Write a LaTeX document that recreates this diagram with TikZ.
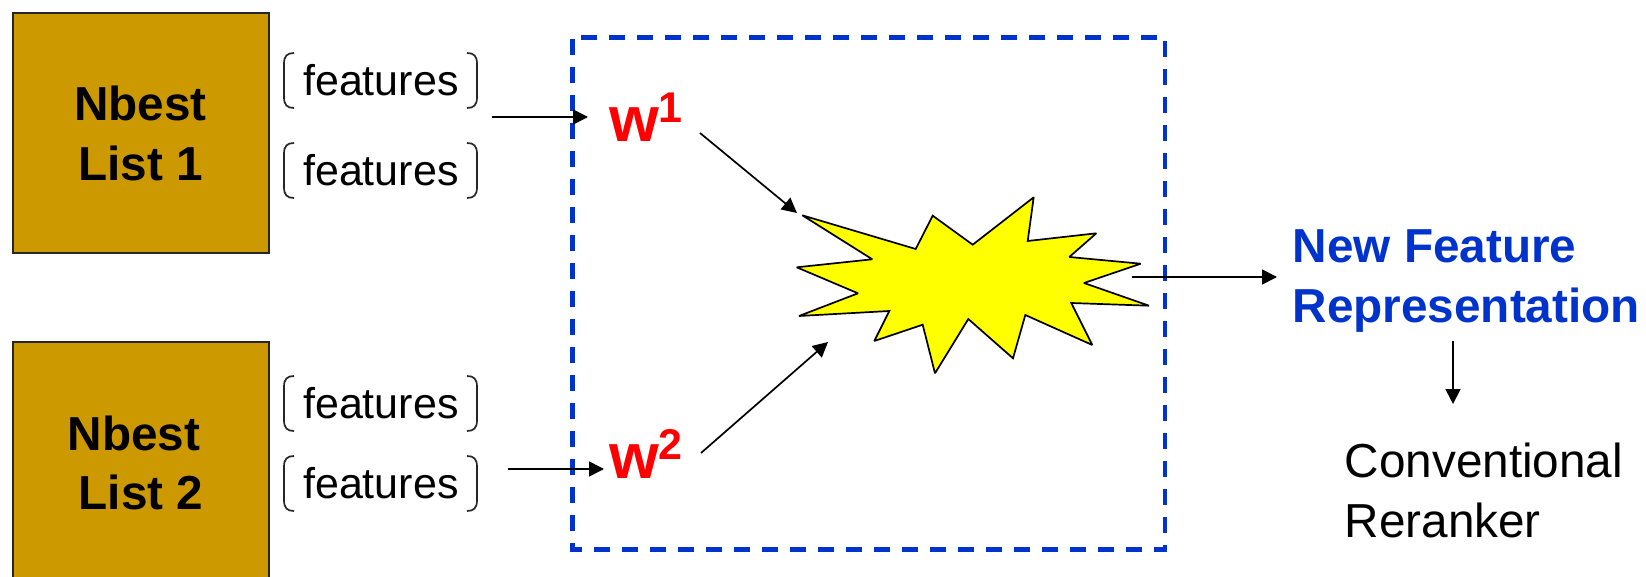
\documentclass[tikz,border=0pt]{standalone}
\usepackage{fontspec}
\setmainfont{Liberation Sans}
\usetikzlibrary{arrows.meta}
\definecolor{nbrown}{HTML}{CC9900}
\definecolor{nblue}{HTML}{0033CC}
\definecolor{byellow}{RGB}{255,255,0}
\definecolor{bred}{RGB}{255,0,0}
\tikzset{
  nbox/.style={draw=black!85,fill=nbrown,line width=1.7pt},
  label47/.style={anchor=base west,inner sep=0pt,align=left,font=\fontsize{47.7}{59.5}\selectfont},
  boldlabel/.style={label47,font=\bfseries\fontsize{47.7}{59.5}\selectfont},
  bluelabel/.style={boldlabel,text=nblue},
  feat/.style={anchor=base west,inner sep=0pt,font=\fontsize{43}{50}\selectfont},
  wlabel/.style={anchor=base west,inner sep=0pt,text=bred,font=\bfseries\fontsize{64}{70}\selectfont},
  arrowline/.style={draw=black,line width=1.7pt,-{Triangle[length=15pt,width=15pt]}},
  brack/.style={draw=black!85,line width=1.7pt},
  burst/.style={draw=black,fill=byellow,line width=1.7pt,line join=miter,miter limit=2},
  dashbox/.style={draw=nblue,line width=4.5pt,dash pattern=on 16pt off 12pt,dash phase=20pt}
}
\newcommand{\featbrackets}[2]{%
  \draw[brack] (294,#1) .. controls (287,#1) and (284,#1+3) .. (284,#1+11) -- (284,#2-11) .. controls (284,#2-3) and (287,#2) .. (294,#2);
  \draw[brack] (467,#1) .. controls (474,#1) and (477,#1+3) .. (477,#1+11) -- (477,#2-11) .. controls (477,#2-3) and (474,#2) .. (467,#2);
}
\newcommand{\supdigit}[1]{\raisebox{19pt}{\fontsize{43}{43}\selectfont #1}}
\begin{document}
\begin{tikzpicture}[x=1pt,y=-1pt]
\useasboundingbox (0,0) rectangle (1646,577);
\clip (0,0) rectangle (1646,577);
% boxes
\node[nbox,anchor=north west,minimum width=256pt,minimum height=240pt,inner sep=0pt] (box1) at (12,12) {};
\node[nbox,anchor=north west,minimum width=256pt,minimum height=250pt,inner sep=0pt] (box2) at (12,341) {};
\node[boldlabel,align=center] (t1) at (74,180.5) {Nbest\\List 1};
\node[boldlabel] (t2) at (67.6,509.5) {Nbest\\\hspace*{11pt}List 2};
% features
\node[feat] (f1) at (303,95.5) {features};
\node[feat] (f2) at (303,185.5) {features};
\node[feat] (f3) at (303,418.5) {features};
\node[feat] (f4) at (303,498.5) {features};
\featbrackets{53}{108}
\featbrackets{143}{198}
\featbrackets{376}{431}
\featbrackets{456}{511}
% dashed frame
\draw[dashbox] (572.7,37.3) -- (1165,37.3) -- (1165,549.7) -- (572.7,549.7) -- cycle;
% burst
\draw[burst] (802.3,215.3) -- (915.7,249) -- (932.7,215.7) -- (972.7,244.7) -- (1033.7,197.3) -- (1027.7,241) -- (1096.3,233.3) -- (1069.3,257) -- (1140.7,263.7) -- (1084,283) -- (1149,305.7) -- (1071.3,303) -- (1092.3,345) -- (1025.3,315) -- (1013,358.3) -- (968.3,319) -- (935,373.3) -- (922.7,324.7) -- (874.3,341) -- (889.3,311) -- (799,316) -- (858,293.3) -- (796.7,267.3) -- (872.3,259.3) -- cycle;
% weights
\node[wlabel] (w1) at (609,142) {w\supdigit{1}};
\node[wlabel] (w2) at (609,478) {w\supdigit{2}};
% right labels
\node[bluelabel] (nf) at (1292.5,322) {New Feature\\Representation};
\node[label47] (cr) at (1344.5,537) {Conventional\\Reranker};
% connector ends
\coordinate (a1s) at (492,117);
\coordinate (a1e) at (588,117);
\coordinate (a2s) at (508,469);
\coordinate (a2e) at (604,469);
\coordinate (a3s) at (700,133);
\coordinate (a3e) at (797,213);
\coordinate (a4s) at (701,453);
\coordinate (a4e) at (828,342);
\coordinate (a5s) at (1132,277);
\coordinate (a5e) at (1277,277);
\coordinate (a6s) at (1453,341);
\coordinate (a6e) at (1453,404);
\draw[arrowline] (a1s) -- (a1e);
\draw[arrowline] (a2s) -- (a2e);
\draw[arrowline] (a3s) -- (a3e);
\draw[arrowline] (a4s) -- (a4e);
\draw[arrowline] (a5s) -- (a5e);
\draw[arrowline] (a6s) -- (a6e);
\end{tikzpicture}
\end{document}
